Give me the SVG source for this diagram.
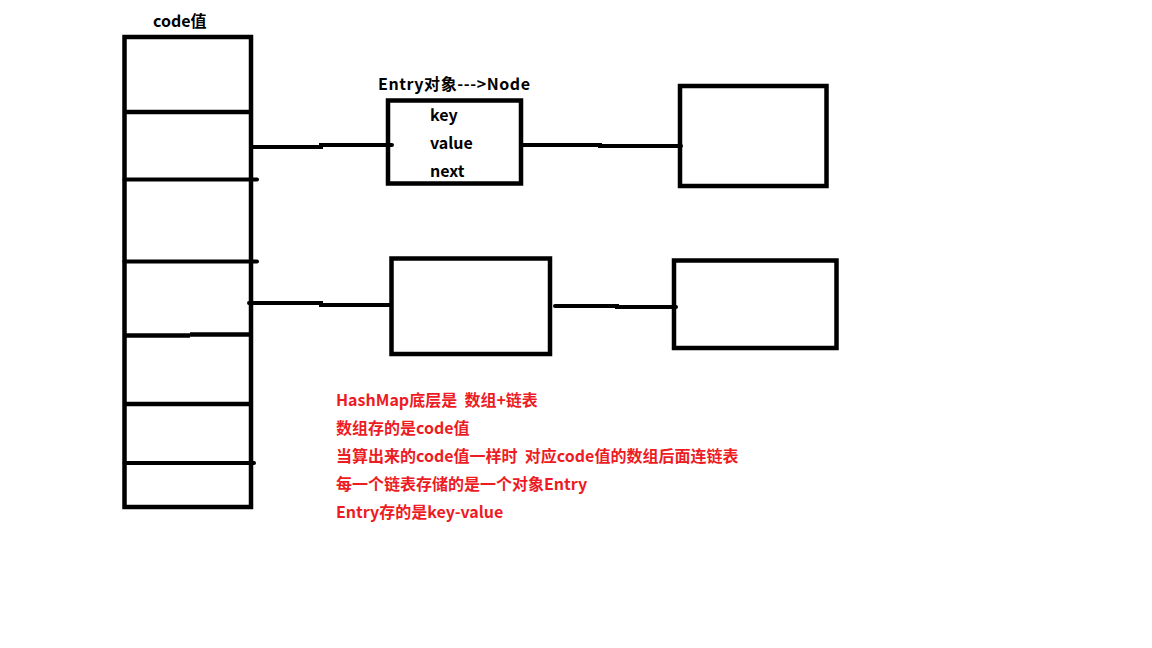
<svg xmlns="http://www.w3.org/2000/svg" width="1152" height="648" viewBox="0 0 1152 648" xml:space="preserve">
<style>
.s{fill:none;stroke:#000;stroke-width:4.5;stroke-linecap:butt}
.c{fill:none;stroke:#000;stroke-width:4;stroke-linecap:round}
.t{font-family:"Noto Sans CJK SC","Liberation Sans",sans-serif;font-weight:bold;font-size:16px;fill:#000;white-space:pre}
.r{font-family:"Noto Sans CJK SC","Liberation Sans",sans-serif;font-weight:bold;font-size:16px;fill:#ed1c24;white-space:pre}
</style>
<rect width="1152" height="648" fill="#fff"/>
<g id="array">
<rect class="s" x="124.5" y="37" width="126.5" height="470"/>
<line class="s" x1="124.5" y1="112" x2="251" y2="112"/>
<line class="c" x1="124.5" y1="179.5" x2="257" y2="179.5"/>
<line class="c" x1="124.5" y1="261.5" x2="257" y2="261.5"/>
<line class="s" x1="124.5" y1="335.5" x2="190" y2="335.5"/>
<line class="s" x1="190" y1="334.5" x2="251" y2="334.5"/>
<line class="s" x1="124.5" y1="404" x2="251" y2="404"/>
<line class="c" x1="124.5" y1="463" x2="254" y2="463"/>
<text class="t" x="153" y="27">code值</text>
</g>
<g id="entry">
<rect class="s" x="388" y="100.5" width="133" height="83"/>
<text class="t" x="378" y="90" textLength="152">Entry对象---&gt;Node</text>
<text class="t" x="430" y="121">key</text>
<text class="t" x="430" y="149">value</text>
<text class="t" x="430" y="177">next</text>
</g>
<g id="node2"><rect class="s" x="680" y="86" width="146.5" height="100"/></g>
<g id="node3"><rect class="s" x="391.5" y="258.5" width="158.5" height="95.5"/></g>
<g id="node4"><rect class="s" x="674" y="260.5" width="162.5" height="87.5"/></g>
<g id="connectors">
<polyline class="c" points="253,147 321,147 321,145 392,145"/>
<polyline class="c" points="523,145 600,145 600,146 681,146"/>
<polyline class="c" points="249,303 321,303 321,305 390,305"/>
<polyline class="c" points="555,306 617,306 617,307 676,307"/>
</g>
<g id="notes">
<text class="r" x="336" y="406">HashMap底层是  数组+链表</text>
<text class="r" x="336" y="434">数组存的是code值</text>
<text class="r" x="336" y="462">当算出来的code值一样时  对应code值的数组后面连链表</text>
<text class="r" x="336" y="490">每一个链表存储的是一个对象Entry</text>
<text class="r" x="336" y="518">Entry存的是key-value</text>
</g>
</svg>
